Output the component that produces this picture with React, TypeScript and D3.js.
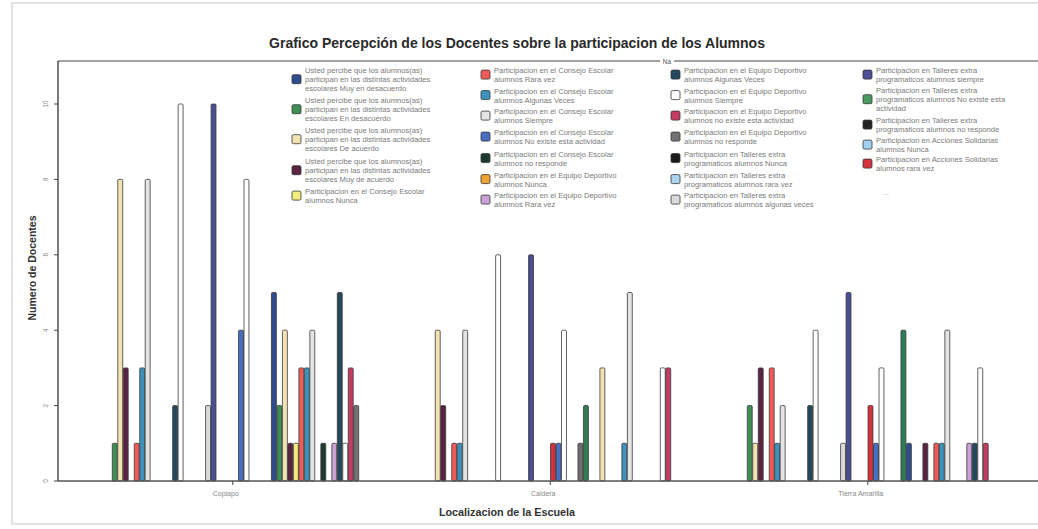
import React from "react";
import * as d3 from "d3";

const categories = ["Copiapo", "Caldera", "Tierra Amarilla"];

// 46 series (legend shows the first 24); colours cycle every 30
const palette = [
  "#2f4d8e", "#3f8f55", "#f4e3b2", "#5a2342", "#f4ec7e", "#ef5b57",
  "#3c92ba", "#e4e4e4", "#4a6fc2", "#1f3b31", "#f0a233", "#c9a2d3",
  "#25495c", "#ffffff", "#c23d61", "#737373", "#1a1a1a", "#a9d5ef",
  "#dadada", "#4b4f92", "#4c9b62", "#222222", "#a2d1f1", "#d2333f",
  "#4a6fc2", "#ffffff", "#f2c6a0", "#8fbf8f", "#6e6e6e", "#2f7d56",
];

const legendNames = [
  ["Usted percibe que los alumnos(as)", "participan en las distintas actividades", "escolares Muy en desacuerdo"],
  ["Usted percibe que los alumnos(as)", "participan en las distintas actividades", "escolares En desacuerdo"],
  ["Usted percibe que los alumnos(as)", "participan en las distintas actividades", "escolares De acuerdo"],
  ["Usted percibe que los alumnos(as)", "participan en las distintas actividades", "escolares Muy de acuerdo"],
  ["Participacion en el Consejo Escolar", "alumnos Nunca"],
  ["Participacion en el Consejo Escolar", "alumnos Rara vez"],
  ["Participacion en el Consejo Escolar", "alumnos Algunas Veces"],
  ["Participacion en el Consejo Escolar", "alumnos Siempre"],
  ["Participacion en el Consejo Escolar", "alumnos No existe esta actividad"],
  ["Participacion en el Consejo Escolar", "alumnos no responde"],
  ["Participacion en el Equipo Deportivo", "alumnos Nunca"],
  ["Participacion en el Equipo Deportivo", "alumnos Rara vez"],
  ["Participacion en el Equipo Deportivo", "alumnos Algunas Veces"],
  ["Participacion en el Equipo Deportivo", "alumnos Siempre"],
  ["Participacion en el Equipo Deportivo", "alumnos no existe esta actividad"],
  ["Participacion en el Equipo Deportivo", "alumnos no responde"],
  ["Participacion en Talleres extra", "programaticos alumnos Nunca"],
  ["Participacion en Talleres extra", "programaticos alumnos rara vez"],
  ["Participacion en Talleres extra", "programaticos alumnos algunas veces"],
  ["Participacion en Talleres extra", "programaticos alumnos siempre"],
  ["Participacion en Talleres extra", "programaticos alumnos No existe esta", "actividad"],
  ["Participacion en Talleres extra", "programaticos alumnos no responde"],
  ["Participacion en Acciones Solidarias", "alumnos Nunca"],
  ["Participacion en Acciones Solidarias", "alumnos rara vez"],
];

const valuesCopiapo = [
  0, 1, 8, 3, 0, 1, 3, 8, 0, 0, 0, 0, 2, 10, 0, 0, 0, 0, 2, 10, 0, 0, 0, 0,
  4, 8, 0, 0, 0, 0, 5, 2, 4, 1, 1, 3, 3, 4, 0, 1, 0, 1, 5, 1, 3, 2,
];
const valuesCaldera = [
  0, 0, 4, 2, 0, 1, 1, 4, 0, 0, 0, 0, 0, 6, 0, 0, 0, 0, 0, 6, 0, 0, 0, 1,
  1, 4, 0, 0, 1, 2, 0, 0, 3, 0, 0, 0, 1, 5, 0, 0, 0, 0, 0, 3, 3, 0,
];
const valuesTierraAmarilla = [
  0, 2, 1, 3, 0, 3, 1, 2, 0, 0, 0, 0, 2, 4, 0, 0, 0, 0, 1, 5, 0, 0, 0, 2,
  1, 3, 0, 0, 0, 4, 1, 0, 0, 1, 0, 1, 1, 4, 0, 0, 0, 1, 1, 3, 1, 0,
];
const seriesValues = [valuesCopiapo, valuesCaldera, valuesTierraAmarilla];
const yTicks = [0, 2, 4, 6, 8, 10];

const W = 1038;
const H = 529;
const FONT = "'Liberation Sans', Arial, sans-serif";

export default function App() {
  const nSeries = valuesCopiapo.length;
  const x0 = d3.scaleBand<string>().domain(categories).range([74, 1026.5]).padding(0);
  const clusterW = 253;
  const x1 = d3.scaleBand<number>().domain(d3.range(nSeries)).range([0, clusterW]).padding(0.1);
  const y = d3.scaleLinear().domain([0, 10]).range([481, 104]);

  const plotL = 58, plotT = 61, plotB = 481, plotR = 1045;

  const legendCols = [
    { sx: 292, tx: 305, items: [0, 1, 2, 3, 4], y0: 73, step: [30, 30, 31, 30, 30] },
    { sx: 481, tx: 494, items: [5, 6, 7, 8, 9, 10, 11], y0: 73, step: [20.5, 20.5, 21, 21.5, 21, 20.5, 20] },
    { sx: 671, tx: 684, items: [12, 13, 14, 15, 16, 17, 18], y0: 73, step: [20.5, 20.5, 21, 21.5, 21, 20.5, 20] },
    { sx: 863, tx: 876, items: [19, 20, 21, 22, 23], y0: 73, step: [20, 30, 20, 19, 20] },
  ];
  const lineH = 9.2;

  return (
    <svg width={W} height={H} style={{ position: "absolute", left: 0, top: 0, background: "#fff" }} fontFamily={FONT}>
      <rect x={0} y={0} width={W} height={H} fill="#fff" />
      <rect x={12} y={3} width={1040} height={521} fill="none" stroke="#cfcfcf" strokeWidth={1.2} />

      {/* title */}
      <text x={517} y={48} textAnchor="middle" fontSize={14} fontWeight="bold" fill="#2a2a2a">
        Grafico Percepción de los Docentes sobre la participacion de los Alumnos
      </text>

      {/* frame */}
      <line x1={plotL} y1={plotT} x2={plotR} y2={plotT} stroke="#444" strokeWidth={1} />
      <line x1={plotL} y1={plotT} x2={plotL} y2={plotB} stroke="#333" strokeWidth={1.3} />
      <rect x={660} y={57} width={14} height={7} fill="#fff" />
      <text x={667} y={63.5} fontSize={6.5} fill="#555" textAnchor="middle">Na</text>

      {/* y ticks */}
      {yTicks.map((t) => (
        <g key={t}>
          <line x1={plotL - 4} x2={plotL} y1={y(t)} y2={y(t)} stroke="#444" />
          <text
            transform={`translate(${plotL - 10},${y(t)}) rotate(-90)`}
            textAnchor="middle"
            fontSize={6.5}
            fill="#888"
          >
            {t}
          </text>
        </g>
      ))}
      <text
        transform={`translate(36,${268}) rotate(-90)`}
        textAnchor="middle"
        fontSize={10.5}
        fontWeight="bold"
        fill="#333"
      >
        Numero de Docentes
      </text>

      {/* bars */}
      {categories.map((c, ci) => {
        const base = (x0(c) as number) + x0.bandwidth() / 2 - clusterW / 2;
        return (
          <g key={c}>
            {seriesValues[ci].map((v, si) =>
              v > 0 ? (
                <rect
                  key={si}
                  x={base + (x1(si) as number)}
                  y={y(v)}
                  width={x1.bandwidth()}
                  height={y(0) - y(v)}
                  rx={1.2}
                  fill={palette[si % palette.length]}
                  stroke="#3a3a3a"
                  strokeWidth={0.8}
                />
              ) : null
            )}
          </g>
        );
      })}

      {/* x axis */}
      <line x1={plotL} y1={plotB} x2={plotR} y2={plotB} stroke="#555" strokeWidth={1.3} />
      {categories.map((c) => {
        const cx = (x0(c) as number) + x0.bandwidth() / 2;
        return (
          <g key={c}>
            <line x1={cx} x2={cx} y1={plotB} y2={plotB + 4} stroke="#444" />
            <text x={cx - 7} y={496} textAnchor="middle" fontSize={7} fill="#888">
              {c}
            </text>
          </g>
        );
      })}
      <text x={507} y={516} textAnchor="middle" fontSize={10.8} fontWeight="bold" fill="#333">
        Localizacion de la Escuela
      </text>

      {/* legend */}
      {legendCols.map((col, k) => {
        let yy = col.y0;
        return (
          <g key={k}>
            {col.items.map((idx, j) => {
              const lines = legendNames[idx];
              const top = yy;
              yy += col.step[j];
              const midLine = lines.length === 3 ? 1 : 0.5;
              const sy = top + midLine * lineH - 7.5;
              return (
                <g key={idx}>
                  <rect
                    x={col.sx}
                    y={sy}
                    width={9}
                    height={9}
                    rx={1.5}
                    fill={palette[idx]}
                    stroke="#333"
                    strokeWidth={0.8}
                  />
                  {lines.map((ln, li) => (
                    <text key={li} x={col.tx} y={top + li * lineH} fontSize={7.6} fill="#7a7a7a">
                      {ln}
                    </text>
                  ))}
                </g>
              );
            })}
          </g>
        );
      })}
      <text x={883} y={195} fontSize={7} fill="#aaa">...</text>
    </svg>
  );
}
